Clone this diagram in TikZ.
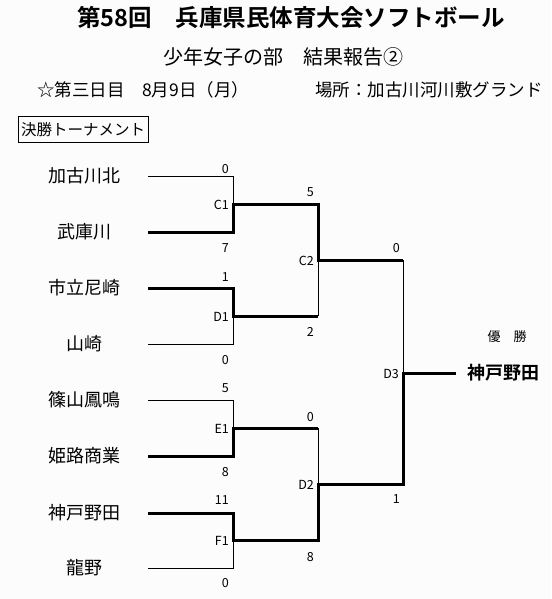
\documentclass[tikz,border=0pt]{standalone}
\usepackage{fontspec}
\setmainfont{Noto Sans CJK JP}[BoldFont={Noto Sans CJK JP Bold}]
\usepackage{tikz}
\usetikzlibrary{positioning}
\definecolor{paper}{HTML}{FCFCFC}

\tikzset{
  team/.style={font=\fontsize{18}{20}\selectfont},
  score/.style={font=\fontsize{12.5}{14}\selectfont, anchor=east, inner sep=0pt},
  match/.style={font=\fontsize{12.5}{14}\selectfont, anchor=east, inner sep=0pt},
  won/.style={line width=3pt},
  lost/.style={line width=1pt}
}

\begin{document}
\begin{tikzpicture}[x=1pt,y=-1pt]
  \fill[paper] (0,0) rectangle (551,599);
  \useasboundingbox (0,0) rectangle (551,599);

  % header
  \node[font=\fontsize{23.5}{25}\selectfont\bfseries] (title) at (291,18) {第58回　兵庫県民体育大会ソフトボール};
  \node[font=\fontsize{20}{22}\selectfont] (sub) at (283,57) {少年女子の部　結果報告②};
  \node[font=\fontsize{17.5}{19}\selectfont, anchor=west, inner sep=0pt] (day) at (37,90) {☆第三日目　8月9日（月）};
  \node[font=\fontsize{17.5}{19}\selectfont, anchor=west, inner sep=0pt] (place) at (315,90) {場所：加古川河川敷グランド};
  \node[draw, line width=1pt, font=\fontsize{15.5}{17}\selectfont, minimum width=130, minimum height=25, inner sep=0pt] (tour) at (83,129.5) {決勝トーナメント};

  % teams
  \node[team] (t1) at (84,176) {加古川北};
  \node[team] (t2) at (84,232) {武庫川};
  \node[team] (t3) at (84,288) {市立尼崎};
  \node[team] (t4) at (84,344) {山崎};
  \node[team] (t5) at (84,400) {篠山鳳鳴};
  \node[team] (t6) at (84,456) {姫路商業};
  \node[team] (t7) at (84,513) {神戸野田};
  \node[team] (t8) at (84,568) {龍野};

  % line starts and match points
  \coordinate (a1) at (148,176);
  \coordinate (a2) at (148,232);
  \coordinate (a3) at (148,288);
  \coordinate (a4) at (148,344);
  \coordinate (a5) at (148,400);
  \coordinate (a6) at (148,456);
  \coordinate (a7) at (148,513);
  \coordinate (a8) at (148,568);
  \coordinate (c1) at (233,204);
  \coordinate (d1) at (233,316);
  \coordinate (e1) at (233,428);
  \coordinate (f1) at (233,540);
  \coordinate (c2) at (318,260);
  \coordinate (d2) at (318,484);
  \coordinate (d3) at (403,373);
  \coordinate (fin) at (456,373);

  % losing sides
  \draw[lost] (a1) -| (c1);
  \draw[lost] (a4) -| (d1);
  \draw[lost] (a5) -| (e1);
  \draw[lost] (a8) -| (f1);
  \draw[lost] (d1 -| c2) -- (c2);
  \draw[lost] (e1 -| d2) -- (d2);
  \draw[lost] (c2 -| d3) -- (d3);

  % winning sides
  \draw[won] (a2) -| (c1) -| (c2) -- (c2 -| d3);
  \draw[won] (a3) -| (d1) -- (d1 -| c2);
  \draw[won] (a6) -| (e1) -- (e1 -| d2);
  \draw[won] (a7) -| (f1) -| (d2) -| (d3) -- (fin);

  % match labels
  \node[match] (mc1) at (229,205) {C1};
  \node[match] (md1) at (229,317) {D1};
  \node[match] (me1) at (229,429) {E1};
  \node[match] (mf1) at (229,541) {F1};
  \node[match] (mc2) at (314,261) {C2};
  \node[match] (md2) at (314,485) {D2};
  \node[match] (md3) at (399,374) {D3};

  % scores
  \node[score] (s1) at (229,169) {0};
  \node[score] (s2) at (229,248) {7};
  \node[score] (s3) at (229,277) {1};
  \node[score] (s4) at (229,360) {0};
  \node[score] (s5) at (229,388) {5};
  \node[score] (s6) at (229,472) {8};
  \node[score] (s7) at (229,500) {11};
  \node[score] (s8) at (229,583) {0};
  \node[score] (s9) at (314,192) {5};
  \node[score] (s10) at (314,332) {2};
  \node[score] (s11) at (314,417) {0};
  \node[score] (s12) at (314,557) {8};
  \node[score] (s13) at (400,248) {0};
  \node[score] (s14) at (400,499) {1};

  % champion
  \node[font=\fontsize{18}{20}\selectfont\bfseries, anchor=west, inner sep=0pt, right=11pt of fin] (winner) {神戸野田};
  \node[font=\fontsize{13}{14}\selectfont] (yusho) at (507,337) {優　勝};
\end{tikzpicture}
\end{document}
